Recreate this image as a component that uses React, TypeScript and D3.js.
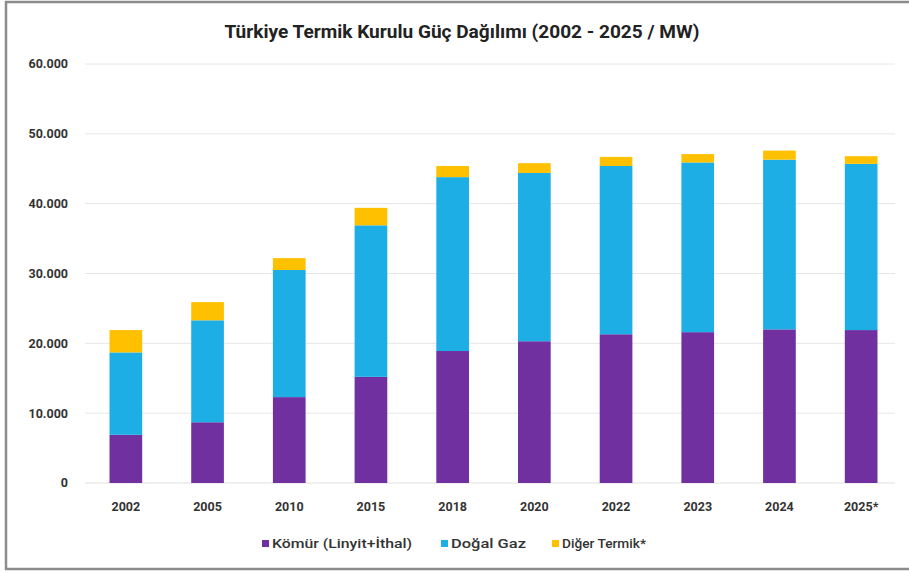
import React from "react";
import * as d3 from "d3";

const years = ["2002", "2005", "2010", "2015", "2018", "2020", "2022", "2023", "2024", "2025*"];
const komur = [6900, 8700, 12300, 15200, 18900, 20300, 21300, 21600, 22000, 21900];
const dogalGaz = [11800, 14600, 18200, 21700, 24900, 24100, 24100, 24300, 24300, 23800];
const diger = [3200, 2600, 1700, 2500, 1600, 1400, 1300, 1200, 1300, 1100];
const seriesNames = ["Kömür (Linyit+İthal)", "Doğal Gaz", "Diğer Termik*"];
const seriesColors = ["#7030A0", "#1EAEE6", "#FFC000"];
const yTicks = [0, 10000, 20000, 30000, 40000, 50000, 60000];
const title = "Türkiye Termik Kurulu Güç Dağılımı (2002 - 2025 / MW)";

const W = 909;
const H = 573;

export default function App() {
  const rows = years.map((y, i) => ({ year: y, k: komur[i], g: dogalGaz[i], d: diger[i] }));
  const stack = d3.stack<any>().keys(["k", "g", "d"]);
  const stacked = stack(rows);
  const x = d3.scaleBand<string>().domain(years).range([85, 902]).paddingInner(0.6).paddingOuter(0.3);
  const y = d3.scaleLinear().domain([0, 60000]).range([483, 64]);
  const fmt = (v: number) => (v === 0 ? "0" : d3.format(",")(v).replace(/,/g, "."));
  const font = "Roboto, 'DejaVu Sans', sans-serif";
  const legendX = [262, 441, 552];
  const legendLen = [140, 75, 84];

  return (
    <svg width={W} height={H} style={{ position: "absolute", left: 0, top: 0, background: "#fff" }} fontFamily={font}>
      <rect x={0} y={0} width={W} height={H} fill="#fff" />
      <rect x={6} y={2} width={W + 10} height={567} fill="none" stroke="#8c8c8c" strokeWidth={2.5} />
      <text x={462} y={38} textAnchor="middle" fontSize={18} fontWeight="bold" fill="#222" textLength={475} lengthAdjust="spacingAndGlyphs">{title}</text>
      {yTicks.map((t) => (
        <g key={t}>
          {t > 0 && <line x1={85} x2={895} y1={y(t)} y2={y(t)} stroke="#e6e6e6" strokeWidth={1} />}
          <text x={68} y={y(t)} dy="0.35em" textAnchor="end" fontSize={12.5} fontWeight="bold" fill="#333">{fmt(t)}</text>
        </g>
      ))}
      <line x1={85} x2={895} y1={y(0)} y2={y(0)} stroke="#e0e0e0" strokeWidth={1} />
      {stacked.map((s, si) => (
        <g key={si} fill={seriesColors[si]}>
          {s.map((d, i) => (
            <rect key={i} x={x(years[i])} width={x.bandwidth()} y={y(d[1])} height={y(d[0]) - y(d[1])} />
          ))}
        </g>
      ))}
      {years.map((yr) => (
        <text key={yr} x={(x(yr) as number) + x.bandwidth() / 2} y={507} dy="0.35em" textAnchor="middle" fontSize={12.5} fontWeight="bold" fill="#333">{yr}</text>
      ))}
      {seriesNames.map((n, i) => (
        <g key={n}>
          <rect x={legendX[i]} y={540} width={7} height={7} fill={seriesColors[i]} />
          <text x={legendX[i] + 10} y={543.5} dy="0.35em" fontSize={13} fontWeight={500} fill="#333" textLength={legendLen[i]} lengthAdjust="spacingAndGlyphs">{n}</text>
        </g>
      ))}
    </svg>
  );
}
